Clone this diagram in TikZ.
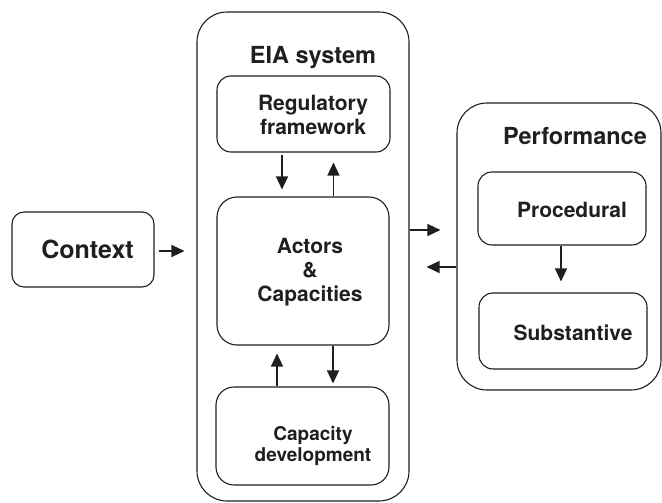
\documentclass[tikz,border=0pt]{standalone}
\usepackage{fontspec}
\setmainfont{TeX Gyre Heros}
\usetikzlibrary{arrows.meta}
\begin{document}
\begin{tikzpicture}[x=1pt,y=-1pt,
  box/.style={draw=black!88, line width=1.1pt, rounded corners=#1, inner sep=0pt},
  box/.default=14pt,
  lbl/.style={inner sep=0pt, align=center, text=black!88, font=\bfseries\fontsize{21}{24}\selectfont},
  arr/.style={draw=black!88, line width=1.3pt, -{Triangle[length=13pt,width=12pt]}}]
\useasboundingbox (0,0) rectangle (662,503);
% containers
\node[box=30pt, minimum width=212pt, minimum height=489pt] (eia) at (303,256.5) {};
\node[box=30pt, minimum width=204pt, minimum height=287pt] (perf) at (559,246.5) {};
% boxes
\node[box=12pt, minimum width=142pt, minimum height=75pt] (ctx) at (83,249.5) {};
\node[box, minimum width=173pt, minimum height=76pt] (reg) at (303.5,114) {};
\node[box=20pt, minimum width=172pt, minimum height=148pt] (act) at (303,271) {};
\node[box=18pt, minimum width=173pt, minimum height=98pt] (cap) at (302.5,436) {};
\node[box, minimum width=168pt, minimum height=73pt] (proc) at (562,208.5) {};
\node[box, minimum width=168pt, minimum height=76pt] (subs) at (563,331) {};
% labels
\node[lbl, anchor=base, font=\bfseries\fontsize{25}{30}\selectfont] (tctx) at (87.5,258) {Context};
\node[lbl, anchor=base, font=\bfseries\fontsize{23.5}{28}\selectfont] (teia) at (313,64) {EIA system};
\node[lbl, anchor=base, font=\bfseries\fontsize{23.5}{28}\selectfont] (tperf) at (575,144) {Performance};
\node[lbl] (treg) at (313,115) {Regulatory\\framework};
\node[lbl] (tact) at (310,272) {Actors\\\&\\Capacities};
\node[lbl, font=\bfseries\fontsize{19}{21}\selectfont] (tcap) at (313,446) {Capacity\\development};
\node[lbl, anchor=base] (tproc) at (572,217) {Procedural};
\node[lbl, anchor=base] (tsubs) at (573,340) {Substantive};
% connectors
\draw[arr, shorten <=4pt, shorten >=12pt] ([yshift=-1.5pt]ctx.east) -- ([yshift=-1.5pt]ctx.east -| eia.west);
\draw[arr, shorten <=2pt, shorten >=7pt] ([xshift=-21.5pt]reg.south) -- ([xshift=-21.5pt]reg.south |- act.north);
\draw[arr, shorten >=10pt] ([xshift=30.5pt]act.north) -- ([xshift=30.5pt]act.north |- reg.south);
\draw[arr, shorten >=8pt] ([xshift=-25.5pt]cap.north) -- ([xshift=-25.5pt]cap.north |- act.south);
\draw[arr, shorten >=3pt] ([xshift=30pt]act.south) -- ([xshift=30pt]act.south |- cap.north);
\draw[arr, shorten >=11pt] ([xshift=-1pt]proc.south) -- ([xshift=-1pt]proc.south |- subs.north);
\draw[arr, shorten >=16pt] ([yshift=26.5pt]eia.east) -- ([yshift=26.5pt]eia.east -| perf.west);
\draw[arr, shorten >=17pt] ([yshift=-10.5pt]eia.east -| perf.west) -- ([yshift=-10.5pt]eia.east);
\end{tikzpicture}
\end{document}
